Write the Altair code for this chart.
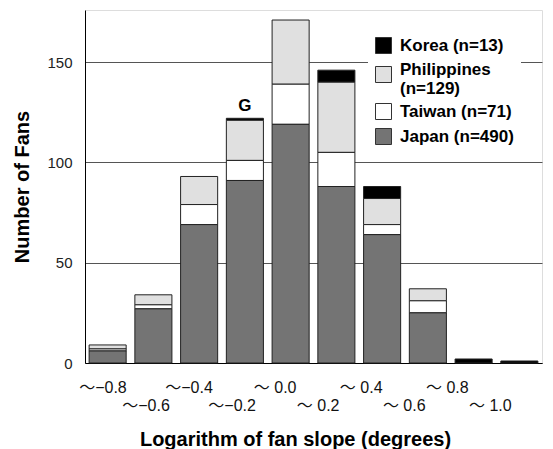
import altair as alt
import pandas as pd

# Bins of log10(fan slope); each label is the upper bound of its bin
categories = ["〜−0.8", "〜−0.6", "〜−0.4", "〜−0.2", "〜 0.0",
              "〜 0.2", "〜 0.4", "〜 0.6", "〜 0.8", "〜 1.0"]

# Fan counts per bin, by region
japan       = [6, 27, 69, 91, 119, 88, 64, 25, 0, 0]
taiwan      = [1, 2, 10, 10, 20, 17, 5, 6, 0, 0]
philippines = [2, 5, 14, 20, 32, 35, 13, 6, 0, 0]
korea       = [0, 0, 0, 1, 0, 6, 6, 0, 2, 1]

series_names = ["Korea (n=13)", "Philippines (n=129)", "Taiwan (n=71)", "Japan (n=490)"]
series_values = [korea, philippines, taiwan, japan]
series_fill = ["#000000", "#e0e0e0", "#ffffff", "#747474"]
# stacking position, from the baseline upwards
stack_rank = [3, 2, 1, 0]

# annotation above one bin
note_bin = ["〜−0.2"]
note_text = ["G"]

rows = []
for name, vals, rank in zip(series_names, series_values, stack_rank):
    for cat, v in zip(categories, vals):
        if v > 0:
            rows.append({"bin": cat, "region": name, "count": v, "rank": rank})
df = pd.DataFrame(rows)

totals = {c: sum(s[i] for s in series_values) for i, c in enumerate(categories)}
notes = pd.DataFrame({"bin": note_bin, "text": note_text,
                      "total": [totals[b] for b in note_bin]})

FONT = "Liberation Sans, Arial, Noto Sans CJK JP"

# alternate bins go on a second label row
stagger = "round(datum.index * 9) % 2 == 1 ? ['', datum.label] : datum.label"
# the long legend entry wraps onto two lines
wrap = "datum.label == 'Philippines (n=129)' ? ['Philippines', '(n=129)'] : datum.label"

x_enc = alt.X(
    "bin:N",
    sort=categories,
    scale=alt.Scale(paddingInner=0.19, paddingOuter=0.09),
    axis=alt.Axis(
        title="Logarithm of fan slope (degrees)",
        titleFontSize=20, titleFontWeight="bold", titleFont=FONT, titleColor="#000",
        titleX=210, titleY=76, titleBaseline="middle",
        labelAngle=0, labelFontSize=16, labelFont=FONT, labelColor="#111",
        labelExpr=stagger, labelLineHeight=18,
        labelOffset=alt.ExprRef("-4.7 - 24.3 * datum.index"),
        labelPadding=16, labelOverlap=False, labelBound=False, labelFlush=False,
        ticks=False, domainColor="#000", domainWidth=1,
    ),
)

y_enc = alt.Y(
    "count:Q",
    stack="zero",
    scale=alt.Scale(domain=[0, 176], nice=False),
    axis=alt.Axis(
        title="Number of Fans",
        titleFontSize=20, titleFontWeight="bold", titleFont=FONT, titleColor="#000",
        titlePadding=14,
        values=[0, 50, 100, 150], labelFontSize=15, labelFont=FONT, labelColor="#222",
        labelPadding=13, ticks=False, domainColor="#000", domainWidth=1,
        grid=True, gridColor="#555", gridWidth=1,
    ),
)

bars = alt.Chart(df).mark_bar(stroke="#222", strokeWidth=1).encode(
    x=x_enc,
    y=y_enc,
    color=alt.Color(
        "region:N",
        scale=alt.Scale(domain=series_names, range=series_fill),
        sort=series_names,
        legend=alt.Legend(
            title=None, orient="none", legendX=283, legendY=20,
            fillColor="white", padding=7,
            symbolType="square", symbolSize=256,
            symbolStrokeColor="#333", symbolStrokeWidth=1, symbolOpacity=1,
            labelFont=FONT, labelFontSize=17, labelFontWeight="bold", labelColor="#000",
            labelOffset=8, rowPadding=4, labelLimit=0,
            labelExpr=wrap,
            labelBaseline=alt.ExprRef(
                "datum.label == 'Philippines (n=129)' ? 'alphabetic' : 'middle'"
            ),
        ),
    ),
    order=alt.Order("rank:Q", sort="ascending"),
)

labels = alt.Chart(notes).mark_text(
    fontSize=17, fontWeight="bold", font=FONT, baseline="alphabetic", dy=-7, color="#000"
).encode(
    x=alt.X("bin:N", sort=categories),
    y=alt.Y("total:Q"),
    text="text:N",
)

chart = alt.layer(bars, labels).properties(
    width=457, height=353,
    padding={"left": 85, "top": 10, "right": 11, "bottom": 86},
    autosize="none",
).configure_view(
    stroke="#888", strokeWidth=1
).configure(background="white")

chart.save("out.html", embed_options={"renderer": "svg", "actions": False})
